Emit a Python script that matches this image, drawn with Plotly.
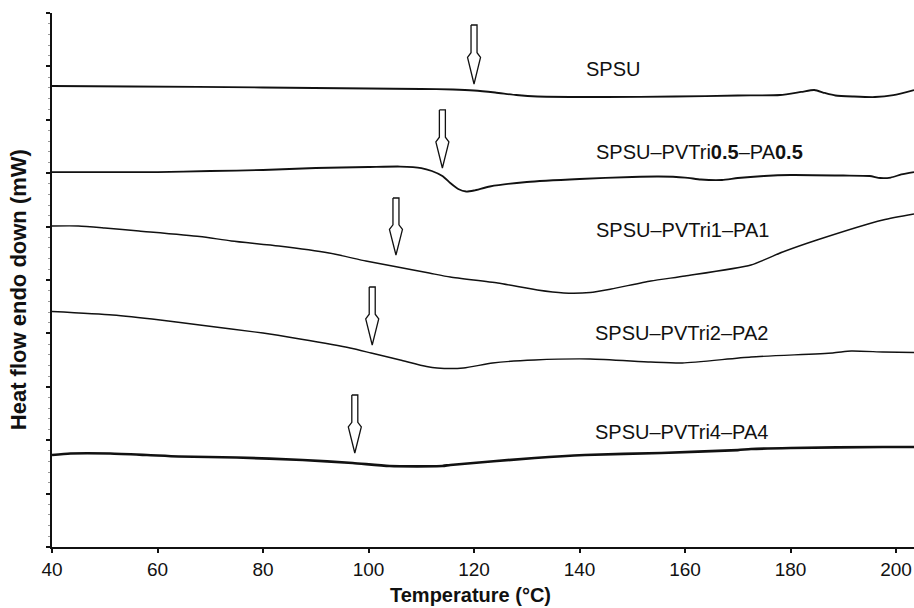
import plotly.graph_objects as go

# ---- data (temperature in °C, heat flow in arbitrary offset units) ----
T_spsu = [40, 55, 80, 100, 110, 116, 120, 124, 128, 132, 145, 158, 170, 178, 182, 184.5, 186.5, 188.5, 192, 196, 199.5, 203.4]
H_spsu = [8.633, 8.624, 8.605, 8.586, 8.577, 8.567, 8.549, 8.511, 8.464, 8.436, 8.427, 8.436, 8.455, 8.464, 8.521, 8.558, 8.502, 8.455, 8.436, 8.427, 8.464, 8.558]

T_05 = [40, 60, 70, 80, 90, 100, 106, 110, 112, 114, 115.5, 117, 118.5, 120, 123, 130, 140, 150, 155, 160, 163, 167, 170, 175, 180, 190, 195, 197, 199, 201, 203.4]
H_05 = [7.022, 7.022, 7.041, 7.060, 7.097, 7.116, 7.125, 7.097, 7.041, 6.948, 6.816, 6.704, 6.657, 6.676, 6.751, 6.835, 6.891, 6.929, 6.938, 6.919, 6.882, 6.873, 6.910, 6.948, 6.966, 6.957, 6.948, 6.910, 6.919, 6.976, 7.022]

T_1 = [40, 45, 50, 56.5, 68, 74, 83, 92.5, 99.5, 105, 111.5, 115.5, 124.5, 132, 137, 142, 146, 153.5, 160, 172.5, 178.5, 185, 197.5, 203.4]
H_1 = [6.011, 6.011, 5.974, 5.918, 5.815, 5.730, 5.637, 5.506, 5.356, 5.253, 5.131, 5.056, 4.944, 4.812, 4.757, 4.766, 4.831, 4.981, 5.075, 5.281, 5.524, 5.749, 6.124, 6.236]

T_2 = [40, 51.5, 60.5, 68, 80, 87, 96.5, 100.5, 106, 111, 113, 118, 123.5, 131.5, 142, 153.5, 159.5, 172.5, 188, 191.5, 197.5, 203.4]
H_2 = [4.410, 4.345, 4.251, 4.157, 4.007, 3.895, 3.727, 3.633, 3.502, 3.380, 3.352, 3.352, 3.446, 3.502, 3.521, 3.464, 3.446, 3.558, 3.633, 3.670, 3.652, 3.642]

T_4 = [40, 43.5, 51, 58, 64, 75, 87.5, 97, 104, 114, 115.5, 131.5, 141, 155.5, 170, 172.5, 180, 197.5, 203.4]
H_4 = [1.723, 1.751, 1.751, 1.723, 1.695, 1.676, 1.629, 1.573, 1.517, 1.517, 1.536, 1.667, 1.723, 1.760, 1.816, 1.835, 1.854, 1.873, 1.873]

series_names = ["SPSU", "SPSU–PVTri<b>0.5</b>–PA<b>0.5</b>", "SPSU–PVTri1–PA1", "SPSU–PVTri2–PA2", "SPSU–PVTri4–PA4"]

# glass-transition arrows (temperature, top and tip heights)
arrow_T = [120, 114, 105.2, 100.7, 97.4]
arrow_top = [9.775, 8.184, 6.536, 4.869, 2.846]
arrow_tip = [8.670, 7.097, 5.468, 3.783, 1.760]

# label anchor positions
label_T = [146.35, 162.65, 159.43, 159.24, 159.24]
label_H = [8.951, 7.397, 5.936, 4.007, 2.154]

x_ticks = [40, 60, 80, 100, 120, 140, 160, 180, 200]

FONT = "Liberation Sans, Arial, sans-serif"
INK = "#111111"

# ---- figure ----
curves = [(T_spsu, H_spsu, 1.8), (T_05, H_05, 1.8), (T_1, H_1, 1.4), (T_2, H_2, 1.4), (T_4, H_4, 2.7)]
fig = go.Figure()
for (tx, hy, w), name in zip(curves, series_names):
    fig.add_trace(go.Scatter(x=tx, y=hy, mode="lines", name=name,
                             line=dict(color=INK, width=w, shape="spline", smoothing=0.6),
                             showlegend=False, hoverinfo="skip"))

# hollow arrows
px_per_T = 5.275
sw = 3.0 / px_per_T
hw = 6.5 / px_per_T
for t, y0, y1 in zip(arrow_T, arrow_top, arrow_tip):
    L = y0 - y1
    yb = y0 - 0.47 * L
    yf = y0 - 0.55 * L
    xs = [t - sw, t + sw, t + sw, t + hw, t, t - hw, t - sw, t - sw]
    ys = [y0, y0, yb, yf, y1, yf, yb, y0]
    fig.add_trace(go.Scatter(x=xs, y=ys, mode="lines", fill="toself", fillcolor="white",
                             line=dict(color=INK, width=1.3), showlegend=False,
                             hoverinfo="skip"))

for name, t, h in zip(series_names, label_T, label_H):
    fig.add_annotation(x=t, y=h, text=name, showarrow=False, xanchor="center", yanchor="middle",
                       font=dict(family=FONT, size=20, color=INK))

# axis titles
fig.add_annotation(xref="paper", yref="paper", x=0.485, y=-0.09, text="<b>Temperature (°C)</b>",
                   showarrow=False, xanchor="center", yanchor="middle",
                   font=dict(family=FONT, size=20, color=INK))
fig.add_annotation(xref="paper", yref="paper", x=-0.0394, y=0.481, text="<b>Heat flow endo down (mW)</b>",
                   showarrow=False, xanchor="center", yanchor="middle", textangle=-90,
                   font=dict(family=FONT, size=22, color=INK))

fig.update_layout(
    width=914, height=608,
    margin=dict(l=52, r=0, t=13, b=61, autoexpand=False),
    paper_bgcolor="white", plot_bgcolor="white",
    font=dict(family=FONT, color=INK),
)
fig.update_xaxes(range=[40, 203.4], tickvals=x_ticks, ticktext=[str(v) for v in x_ticks],
                 automargin=False,
                 showgrid=False, zeroline=False, showline=True, linecolor=INK, linewidth=2,
                 ticks="outside", ticklen=4, tickwidth=1.5, tickcolor=INK,
                 tickfont=dict(family=FONT, size=19, color=INK))
fig.update_yaxes(range=[0, 10], dtick=1, showticklabels=False, automargin=False,
                 showgrid=False, zeroline=False, showline=True, linecolor=INK, linewidth=2,
                 ticks="outside", ticklen=4, tickwidth=1.5, tickcolor=INK,
                 minor=dict(dtick=0.2, ticks="outside", ticklen=2, tickcolor="#999999", tickwidth=1))

fig.write_html("out.html",
               config={"displayModeBar": False},
               post_script="document.body.style.margin='0';document.body.style.overflow='hidden';")
